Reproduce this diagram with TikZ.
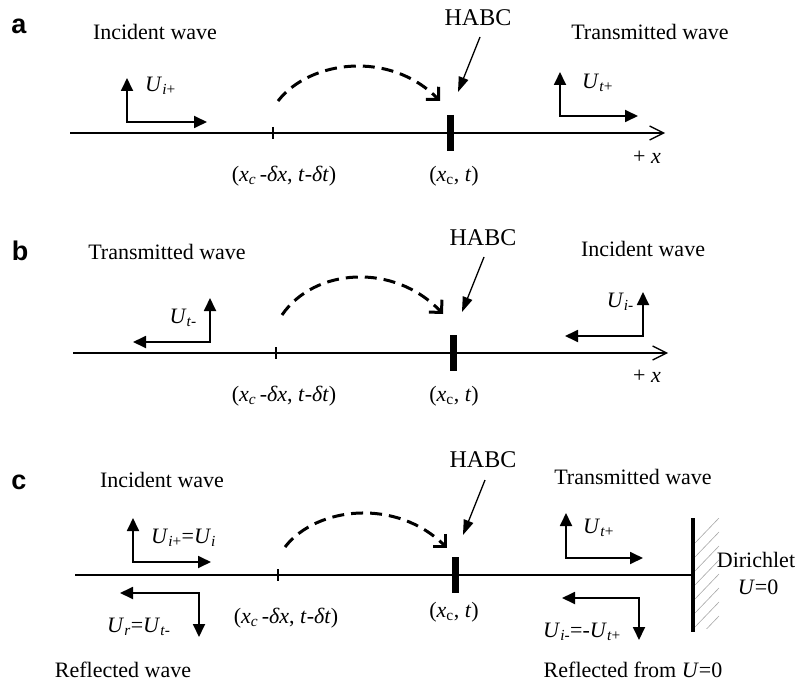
\documentclass[tikz,border=0pt]{standalone}
\usepackage{fontspec}
\setmainfont{Liberation Serif}
\newfontfamily\panelfont{Liberation Sans}
\usetikzlibrary{arrows.meta}
\begin{document}
\begin{tikzpicture}[x=1pt,y=-1pt,
  txt/.style={inner sep=0pt, font=\fontsize{22}{26}\selectfont},
  habc/.style={inner sep=0pt, font=\fontsize{24}{28}\selectfont},
  plab/.style={inner sep=0pt, font=\panelfont\bfseries\fontsize{27}{30}\selectfont},
  axisline/.style={line width=1.3pt, -{Straight Barb[length=14pt,width=14pt]}},
  axisplain/.style={line width=1.3pt},
  larrow/.style={line width=1.8pt, line join=miter, {Triangle[length=13pt,width=12pt]}-{Triangle[length=13pt,width=12pt]}},
  dasharc/.style={line width=3pt, dash pattern=on 12pt off 7pt, -{Straight Barb[length=9pt,width=18pt]}},
  ptr/.style={line width=1.3pt, -{Triangle[length=15pt,width=10pt]}},
  barline/.style={line width=7pt},
  tickline/.style={line width=1.3pt},
  wall/.style={line width=3.5pt},
  hatchline/.style={gray!70, line width=0.6pt}
]
\useasboundingbox (0,0) rectangle (806,682);

% ---------------- panel a ----------------
\node[plab] (la) at (19,26) {a};
\node[txt] (inca) at (155,32) {Incident wave};
\node[txt] (tra) at (650,32) {Transmitted wave};
\node[habc] (ha) at (478,18) {HABC};
\coordinate (a0) at (70,133);
\coordinate (a1) at (665,133);
\draw[axisline] (a0) -- (a1);
\coordinate (atk) at (273,133);
\draw[tickline] ([yshift=6pt]atk) -- ([yshift=-6pt]atk);
\coordinate (abar) at (450,133);
\draw[barline] ([yshift=18pt]abar) -- ([yshift=-18pt]abar);
\coordinate (ap1) at (480,37);
\coordinate (ap2) at (458,92);
\draw[ptr] (ap1) -- (ap2);
\coordinate (as) at (278,101);
\coordinate (ae) at (440,101);
\draw[dasharc] (as) .. controls (310,60) and (390,50) .. (ae);
\coordinate (ua) at (127,122);
\coordinate (ua1) at (127,78);
\coordinate (ua2) at (207,122);
\draw[larrow] (ua1) -- (ua) -- (ua2);
\node[txt, anchor=west] (lua) at (145,86) {\textit{U}\textsubscript{\textit{i}+}};
\coordinate (ta) at (560,116);
\coordinate (ta1) at (560,72);
\coordinate (ta2) at (638,116);
\draw[larrow] (ta1) -- (ta) -- (ta2);
\node[txt, anchor=west] (lta) at (582,83) {\textit{U}\textsubscript{\textit{t}+}};
\node[txt] (pxa) at (647,157) {+ \textit{x}};
\node[txt] (xda) at (284,176) {(\textit{x}\textsubscript{\textit{c}}\,-\textit{δx}, \textit{t}-\textit{δt})};
\node[txt] (xca) at (454,176) {(\textit{x}\textsubscript{c}, \textit{t})};

% ---------------- panel b ----------------
\node[plab] (lb) at (20,251) {b};
\node[txt] (trb) at (167,252) {Transmitted wave};
\node[txt] (incb) at (643,249) {Incident wave};
\node[habc] (hb) at (483,238) {HABC};
\coordinate (b0) at (73,353);
\coordinate (b1) at (668,353);
\draw[axisline] (b0) -- (b1);
\coordinate (btk) at (276,353);
\draw[tickline] ([yshift=6pt]btk) -- ([yshift=-6pt]btk);
\coordinate (bbar) at (453,353);
\draw[barline] ([yshift=18pt]bbar) -- ([yshift=-18pt]bbar);
\coordinate (bp1) at (484,257);
\coordinate (bp2) at (462,312);
\draw[ptr] (bp1) -- (bp2);
\coordinate (bs) at (282,315);
\coordinate (be) at (443,314);
\draw[dasharc] (bs) .. controls (314,268) and (394,262) .. (be);
\coordinate (tb) at (210,342);
\coordinate (tb1) at (210,298);
\coordinate (tb2) at (133,342);
\draw[larrow] (tb1) -- (tb) -- (tb2);
\node[txt, anchor=east] (ltb) at (197,318) {\textit{U}\textsubscript{\textit{t}-}};
\coordinate (ub) at (643,336);
\coordinate (ub1) at (643,292);
\coordinate (ub2) at (565,336);
\draw[larrow] (ub1) -- (ub) -- (ub2);
\node[txt, anchor=east] (lub) at (634,302) {\textit{U}\textsubscript{\textit{i}-}};
\node[txt] (pxb) at (647,376) {+ \textit{x}};
\node[txt] (xdb) at (284,396) {(\textit{x}\textsubscript{\textit{c}}\,-\textit{δx}, \textit{t}-\textit{δt})};
\node[txt] (xcb) at (454,396) {(\textit{x}\textsubscript{c}, \textit{t})};

% ---------------- panel c ----------------
\node[plab] (lc) at (19,482) {c};
\node[txt] (incc) at (162,480) {Incident wave};
\node[txt] (trc) at (633,477) {Transmitted wave};
\node[habc] (hc) at (483,460) {HABC};
\node[txt] (refc) at (123,670) {Reflected wave};
\node[txt] (reff) at (633,670) {Reflected from \textit{U}=0};
\node[txt] (dir) at (756,560) {Dirichlet};
\node[txt] (uz) at (758,587) {\textit{U}=0};
\coordinate (c0) at (75,575);
\coordinate (cw) at (693,575);
\draw[axisplain] (c0) -- (cw);
\coordinate (cwt) at (693,518);
\coordinate (cwb) at (693,632);
\draw[wall] (cwt) -- (cwb);
\begin{scope}
  \clip (695,518) rectangle (720,628);
  \foreach \yy in {518,532,...,630} \draw[hatchline] (719,\yy) -- (695,\yy+25);
\end{scope}
\coordinate (ctk) at (278,575);
\draw[tickline] ([yshift=6pt]ctk) -- ([yshift=-6pt]ctk);
\coordinate (cbar) at (455,575);
\draw[barline] ([yshift=18pt]cbar) -- ([yshift=-18pt]cbar);
\coordinate (cp1) at (485,480);
\coordinate (cp2) at (463,535);
\draw[ptr] (cp1) -- (cp2);
\coordinate (cs) at (285,547);
\coordinate (ce) at (447,548);
\draw[dasharc] (cs) .. controls (317,506) and (397,498) .. (ce);
\coordinate (uc) at (133,562);
\coordinate (uc1) at (133,518);
\coordinate (uc2) at (211,562);
\draw[larrow] (uc1) -- (uc) -- (uc2);
\node[txt, anchor=west] (luc) at (151,538) {\textit{U}\textsubscript{\textit{i}+}=\textit{U}\textsubscript{\textit{i}}};
\coordinate (rc) at (199,593);
\coordinate (rc1) at (120,593);
\coordinate (rc2) at (199,637);
\draw[larrow] (rc1) -- (rc) -- (rc2);
\node[txt, anchor=west] (lrc) at (107,627) {\textit{U}\textsubscript{\textit{r}}=\textit{U}\textsubscript{\textit{t}-}};
\coordinate (tc) at (566,558);
\coordinate (tc1) at (566,513);
\coordinate (tc2) at (643,558);
\draw[larrow] (tc1) -- (tc) -- (tc2);
\node[txt, anchor=west] (ltc) at (583,528) {\textit{U}\textsubscript{\textit{t}+}};
\coordinate (rf) at (639,598);
\coordinate (rf1) at (562,598);
\coordinate (rf2) at (639,640);
\draw[larrow] (rf1) -- (rf) -- (rf2);
\node[txt] (lrf) at (582,632) {\textit{U}\textsubscript{\textit{i}-}=-\textit{U}\textsubscript{\textit{t}+}};
\node[txt] (xdc) at (286,618) {(\textit{x}\textsubscript{\textit{c}}\,-\textit{δx}, \textit{t}-\textit{δt})};
\node[txt] (xcc) at (454,612) {(\textit{x}\textsubscript{c}, \textit{t})};
\end{tikzpicture}
\end{document}
